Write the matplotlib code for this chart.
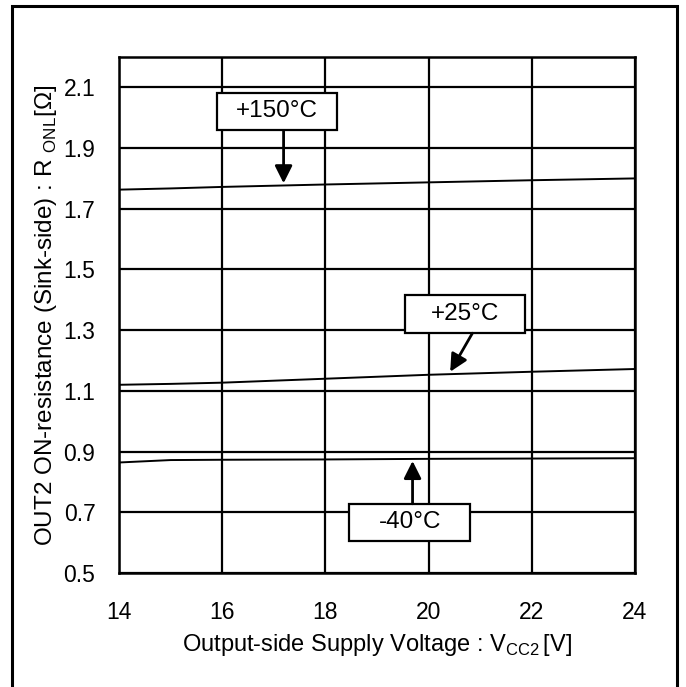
import numpy as np
import matplotlib
matplotlib.use('Agg')
from matplotlib import pyplot as plt
from matplotlib.patches import Rectangle

plt.rcParams['font.family'] = ['Liberation Sans', 'DejaVu Sans']
plt.rcParams['mathtext.fontset'] = 'custom'
plt.rcParams['mathtext.rm'] = 'Liberation Sans'

# supply voltage [V] and ON-resistance [ohm] per temperature
vcc2 = [14, 15, 16, 18, 20, 22, 24]
r_150 = [1.763, 1.767, 1.772, 1.780, 1.787, 1.794, 1.800]
r_25 = [1.120, 1.123, 1.127, 1.140, 1.153, 1.163, 1.172]
r_m40 = [0.864, 0.872, 0.873, 0.874, 0.876, 0.877, 0.878]

temps = ['+150°C', '+25°C', '-40°C']
series = [r_150, r_25, r_m40]

# label boxes: (x0, x1, y0, y1), arrow start, arrow tip
boxes = [(15.90, 18.23, 1.958, 2.083), (19.54, 21.87, 1.290, 1.416), (18.46, 20.81, 0.606, 0.728)]
arrows = [((17.19, 1.958), (17.19, 1.784)),
          ((20.85, 1.290), (20.42, 1.163)),
          ((19.69, 0.728), (19.69, 0.869))]

fig = plt.figure(figsize=(6.86, 6.87), dpi=100)
ax = fig.add_axes([0.1735, 0.166, 0.752, 0.751])

ax.set_xlim(14, 24)
ax.set_ylim(0.5, 2.2)
ax.set_xticks(np.arange(14, 25, 2))
ax.set_yticks(np.round(np.arange(0.5, 2.2, 0.2), 1))
ax.set_yticklabels(['%.1f' % v for v in np.arange(0.5, 2.2, 0.2)])
ax.grid(True, color='black', lw=1.6)
ax.set_axisbelow(True)
for s in ax.spines.values():
    s.set_linewidth(1.8)
ax.tick_params(length=0, labelsize=16.5)
ax.tick_params(axis='x', pad=20)
ax.tick_params(axis='y', pad=17)

for r in series:
    ax.plot(vcc2, r, color='black', lw=1.4, zorder=3)

for t, (x0, x1, y0, y1), (start, tip) in zip(temps, boxes, arrows):
    ax.add_patch(Rectangle((x0, y0), x1 - x0, y1 - y0, facecolor='white',
                           edgecolor='black', lw=1.6, zorder=4))
    ax.text((x0 + x1) / 2, (y0 + y1) / 2, t, ha='center', va='center',
            fontsize=17.5, zorder=5)
    ax.annotate('', xy=tip, xytext=start, zorder=5,
                arrowprops=dict(arrowstyle='-|>,head_length=0.7,head_width=0.35',
                                mutation_scale=15, lw=2, color='black',
                                shrinkA=0, shrinkB=0))

ax.set_xlabel('Output-side Supply Voltage : V$_{\\rm CC2}$$\\,$[V]', fontsize=17, labelpad=6)
ax.set_ylabel('OUT2 ON-resistance (Sink-side) : R $_{\\rm ONL}$[Ω]', fontsize=17.5, labelpad=3)

# frame around the whole figure
fig.patches.append(Rectangle((12 / 686, -0.01), 665 / 686, 1 - 6 / 687 + 0.01,
                             transform=fig.transFigure, fill=False,
                             edgecolor='black', lw=2.2))

fig.savefig('out.png', dpi=100)
